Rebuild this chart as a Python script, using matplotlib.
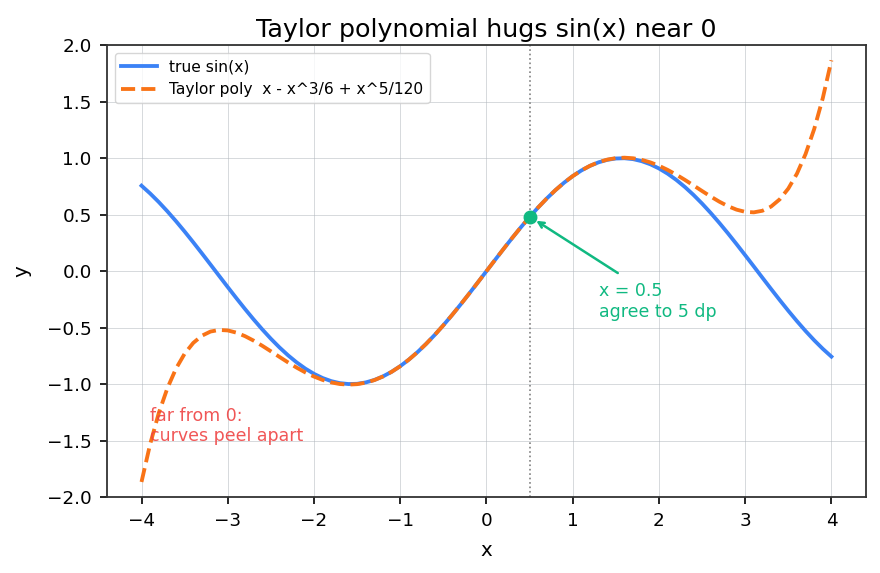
import numpy as np
import matplotlib.pyplot as plt

# sample points (step 0.1, x >= 0; curves are odd)
x_pos = np.round(np.arange(0, 41) * 0.1, 1)

sin_pos = [0.0, 0.0998, 0.1987, 0.2955, 0.3894, 0.4794, 0.5646, 0.6442, 0.7174,
           0.7833, 0.8415, 0.8912, 0.9320, 0.9636, 0.9854, 0.9975, 0.9996,
           0.9917, 0.9738, 0.9463, 0.9093, 0.8632, 0.8085, 0.7457, 0.6755,
           0.5985, 0.5155, 0.4274, 0.3350, 0.2392, 0.1411, 0.0416, -0.0584,
           -0.1577, -0.2555, -0.3508, -0.4425, -0.5298, -0.6119, -0.6878,
           -0.7568]
poly_pos = [0.0, 0.09983, 0.19867, 0.29552, 0.38942, 0.47943, 0.56465, 0.64423,
            0.71740, 0.78342, 0.84167, 0.89159, 0.93274, 0.96477, 0.98749,
            1.00078, 1.00471, 0.99949, 0.98546, 0.96318, 0.93333, 0.89684,
            0.85480, 0.80853, 0.75955, 0.70964, 0.66078, 0.61524, 0.57553,
            0.54443, 0.52500, 0.52060, 0.53487, 0.57178, 0.63562, 0.73099,
            0.86285, 1.03650, 1.25760, 1.53218, 1.86667]

x_vals = np.concatenate([-x_pos[:0:-1], x_pos])
sin_y = [-v for v in sin_pos[:0:-1]] + sin_pos
poly_y = [-v for v in poly_pos[:0:-1]] + poly_pos

mark_x = 0.5
mark_y = 0.4794

blue = "#3b82f6"
orange = "#f97316"
green = "#10b981"
red = "#ef4444"

fig, ax = plt.subplots(figsize=(8.8, 5.73), dpi=100)
ax.plot(x_vals, sin_y, color=blue, lw=2.75, label="true sin(x)")
ax.plot(x_vals, poly_y, color=orange, lw=2.75, ls="--",
        label="Taylor poly  x - x^3/6 + x^5/120")
ax.axvline(mark_x, color="gray", ls=":", lw=1.2)
ax.plot([mark_x], [mark_y], "o", color=green, ms=9, zorder=5)
ax.annotate("", xy=(mark_x + 0.05, mark_y - 0.02), xytext=(1.55, -0.03),
            arrowprops=dict(arrowstyle="->", color=green, lw=1.8))
ax.text(1.3, -0.1, "x = 0.5\nagree to 5 dp", color=green, fontsize=12.5,
        va="top", ha="left")
ax.text(-3.9, -1.2, "far from 0:\ncurves peel apart", color=red, fontsize=12.5,
        va="top", ha="left", alpha=0.9)

ax.set_xlim(-4.4, 4.4)
ax.set_ylim(-2.0, 2.0)
ax.set_xticks(np.arange(-4, 5, 1))
ax.set_yticks(np.arange(-2.0, 2.01, 0.5))
ax.set_yticklabels([f"{v:.1f}".replace("-", "\u2212") for v in np.arange(-2.0, 2.01, 0.5)])
ax.set_xticklabels([f"{v}".replace("-", "\u2212") for v in range(-4, 5)])
ax.tick_params(labelsize=13.2, length=5, width=1.2, pad=6)
ax.grid(True, color="#b0b6bc", alpha=0.6, lw=0.6)
for s in ax.spines.values():
    s.set_color("#333333")
    s.set_linewidth(1.3)
ax.set_xlabel("x", fontsize=14.3, labelpad=8)
ax.set_ylabel("y", fontsize=14.3, labelpad=11)
ax.set_title("Taylor polynomial hugs sin(x) near 0", fontsize=18.3)
ax.legend(loc="upper left", fontsize=11.2, handlelength=2.3)

fig.subplots_adjust(left=0.1216, right=0.984, top=0.921, bottom=0.1326)
fig.savefig("out.png", dpi=100)
